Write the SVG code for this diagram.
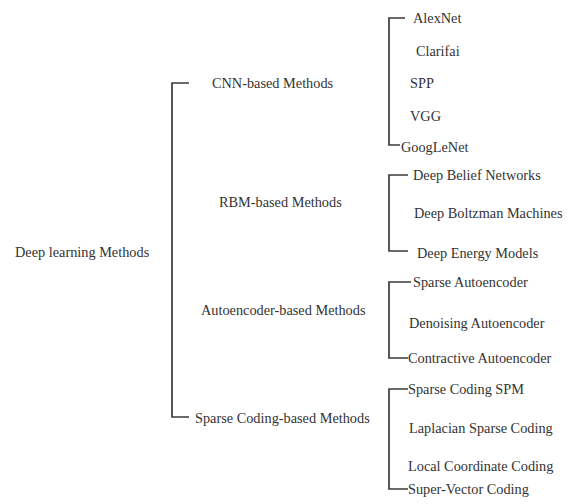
<svg xmlns="http://www.w3.org/2000/svg" width="569" height="504" viewBox="0 0 569 504">
<style>
text{font-family:"Liberation Serif","Times New Roman",serif;font-size:14.3px;fill:#333}
.c{fill:none;stroke:#3a3a3a;stroke-width:1.7}
</style>
<rect width="569" height="504" fill="#fff"/>
<g id="connectors">
<path class="c" d="M189,83 H172 V417 H189"/>
<path class="c" d="M405,18 H389 V145 H400"/>
<path class="c" d="M408,175 H389 V251 H408"/>
<path class="c" d="M411,282 H389 V358 H408"/>
<path class="c" d="M408,389 H389 V489 H408"/>
</g>
<g id="root"><text x="15" y="257">Deep learning Methods</text></g>
<g id="cnn"><text x="212" y="88">CNN-based Methods</text></g>
<g id="rbm"><text x="219" y="207">RBM-based Methods</text></g>
<g id="ae"><text x="201" y="315">Autoencoder-based Methods</text></g>
<g id="sc"><text x="195" y="423">Sparse Coding-based Methods</text></g>
<g id="alexnet"><text x="413" y="23">AlexNet</text></g>
<g id="clarifai"><text x="416" y="56">Clarifai</text></g>
<g id="spp"><text x="410" y="88">SPP</text></g>
<g id="vgg"><text x="410" y="121">VGG</text></g>
<g id="googlenet"><text x="401" y="152">GoogLeNet</text></g>
<g id="dbn"><text x="413" y="180">Deep Belief Networks</text></g>
<g id="dbm"><text x="414" y="218">Deep Boltzman Machines</text></g>
<g id="dem"><text x="417" y="258">Deep Energy Models</text></g>
<g id="sae"><text x="413" y="287">Sparse Autoencoder</text></g>
<g id="dae"><text x="409" y="328">Denoising Autoencoder</text></g>
<g id="cae"><text x="408" y="363">Contractive Autoencoder</text></g>
<g id="scspm"><text x="408" y="394">Sparse Coding SPM</text></g>
<g id="lsc"><text x="409" y="433">Laplacian Sparse Coding</text></g>
<g id="lcc"><text x="408" y="471">Local Coordinate Coding</text></g>
<g id="svc"><text x="408" y="494">Super-Vector Coding</text></g>
</svg>
